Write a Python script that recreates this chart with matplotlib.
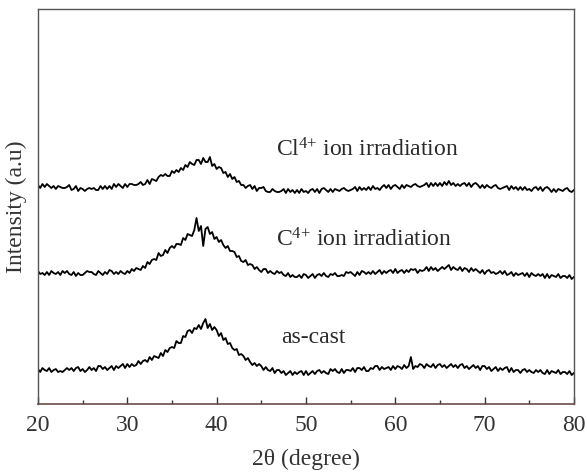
import numpy as np
import matplotlib
matplotlib.use("Agg")
import matplotlib.pyplot as plt
from matplotlib.ticker import MultipleLocator

plt.rcParams['font.family'] = ['Liberation Serif', 'DejaVu Serif']
plt.rcParams['mathtext.fontset'] = 'custom'
plt.rcParams['mathtext.rm'] = 'Liberation Serif'
plt.rcParams['mathtext.it'] = 'Liberation Serif'
plt.rcParams['mathtext.default'] = 'regular'

# 2-theta grid (degrees), 0.25 deg step from 20 to 80
two_theta = np.arange(20.0, 80.0 + 0.001, 0.25)

# Intensities (a.u., already stacked with offsets as in the figure)
cl_ion = [
    219,216,220,217, 220,218,216,218, 215,218,217,216, 216,217,219,214,
    215,218,213,216, 215,213,215,216, 215,216,214,214, 218,215,218,215,
    218,215,220,217, 220,218,216,220, 217,220,220,219, 219,220,222,219,
    220,224,220,225, 224,223,227,229, 228,230,228,228, 233,231,234,232,
    236,234,239,237, 242,240,239,244, 244,240,246,242, 242,247,238,240,
    235,237,236,231, 232,227,230,225, 227,222,223,219, 219,216,218,219,
    215,218,213,216, 216,217,213,212, 212,215,213,212, 212,213,215,211,
    215,212,214,211, 214,211,215,212, 213,211,214,215, 212,215,211,215,
    216,214,212,215, 212,215,214,213, 215,216,214,213, 214,215,217,213,
    217,214,216,214, 217,214,218,215, 216,214,217,219, 216,219,215,218,
    219,217,215,219, 216,219,218,217, 219,220,218,217, 218,219,221,217,
    221,218,221,218, 221,218,222,219, 223,219,221,218, 220,218,220,221,
    218,221,217,220, 221,219,216,219, 216,219,217,216, 218,219,216,215,
    216,217,218,214, 218,215,217,214, 217,214,217,214, 215,213,216,217,
    214,217,213,216, 217,215,212,215, 212,215,214,213, 215,216,213,212,
    214,
]

c_ion = [
    133,130,131,129, 132,129,133,131, 130,132,129,133, 131,133,130,129,
    132,128,131,129, 129,131,133,132, 132,130,129,133, 131,129,132,130,
    134,133,130,132, 130,133,131,130, 133,131,135,133, 136,135,134,138,
    136,142,140,144, 145,144,151,148, 149,154,151,156, 158,156,160,160,
    159,166,164,170, 169,168,174,186, 173,178,158,175, 177,170,172,165,
    167,162,164,159, 156,158,153,153, 152,147,148,143, 142,144,139,140,
    139,135,137,134, 132,135,135,131, 133,131,130,133, 131,132,129,128,
    131,127,129,127, 127,129,126,130, 129,126,128,130, 126,129,130,128,
    131,128,127,130, 129,131,128,128, 129,128,132,131, 132,130,128,132,
    129,133,132,130, 132,130,133,130, 132,134,130,133, 131,133,134,131,
    135,131,133,134, 131,134,132,135, 134,135,131,134, 133,134,137,133,
    137,134,136,133, 135,137,135,137, 139,134,137,135, 134,137,133,136,
    135,132,136,133, 135,133,131,134, 130,133,134,131, 132,130,131,133,
    130,133,129,130, 132,128,131,129, 130,131,128,131, 127,131,129,128,
    130,128,130,126, 130,126,129,128, 127,130,126,128, 128,126,129,125,
    127,
]

as_cast = [
    35,32,36,34, 33,36,32,34, 35,32,33,32, 34,36,34,36,
    33,36,37,33, 35,32,34,37, 34,36,33,38, 38,35,37,34,
    36,38,34,38, 36,38,40,36, 40,37,40,38, 39,43,40,43,
    44,42,47,44, 48,47,46,51, 48,54,52,56, 57,56,63,61,
    61,68,67,73, 74,71,76,75, 79,75,81,85, 76,80,74,77,
    74,68,71,64, 66,60,61,56, 54,55,49,50, 48,44,46,42,
    39,41,38,40, 38,34,37,34, 33,36,31,34, 34,31,33,29,
    31,33,29,32, 30,32,33,29, 33,29,31,33, 30,33,34,31,
    33,31,30,35, 33,35,32,31, 35,31,34,34, 33,36,32,36,
    36,34,37,33, 33,36,35,38, 38,34,37,35, 36,37,34,38,
    35,38,37,35, 39,36,38,47, 35,38,37,40, 39,36,40,38,
    37,40,36,39, 40,37,39,36, 38,40,37,39, 36,39,40,36,
    38,35,37,39, 36,38,34,38, 38,35,37,33, 35,37,33,36,
    34,36,37,32, 36,32,34,34, 31,34,35,32, 34,32,31,34,
    32,34,31,30, 34,30,33,32, 31,34,30,32, 32,30,33,29,
    31,
]

labels = ["Cl$^{4{+}}$ ion irradiation", "C$^{4{+}}$ ion irradiation", "as-cast"]
label_x = [46.6, 46.6, 47.2]
label_y = [254, 164, 67]

xticks = [20, 30, 40, 50, 60, 70, 80]

fig = plt.figure(figsize=(5.87, 4.72), dpi=100)
ax = fig.add_axes([0.0647, 0.144, 0.913, 0.837])

for series in (cl_ion, c_ion, as_cast):
    ax.plot(two_theta, series, color='black', lw=1.3)

for t, x, y in zip(labels, label_x, label_y):
    ax.text(x, y, t, fontsize=17, va='center', ha='left', color='#2a2a2a')

ax.set_xlim(20, 80)
ax.set_ylim(0, 395)
ax.set_xticks(xticks)
ax.xaxis.set_minor_locator(MultipleLocator(5))
ax.set_yticks([])
ax.tick_params(axis='x', which='major', direction='in', length=5, width=1.0,
               labelsize=17, pad=8, colors='#333333')
ax.tick_params(axis='x', which='minor', direction='in', length=3, width=1.0, colors='#333333')
for s in ['left', 'right', 'top']:
    ax.spines[s].set_color('#555555')
    ax.spines[s].set_linewidth(1.0)
ax.spines['bottom'].set_color('#6b4a4a')
ax.spines['bottom'].set_linewidth(1.2)

ax.set_xlabel("2θ (degree)", fontsize=17, labelpad=9, color='#333333')
ax.set_ylabel("Intensity (a.u)", fontsize=17, labelpad=8, color='#333333')

fig.savefig("out.png", dpi=100)
